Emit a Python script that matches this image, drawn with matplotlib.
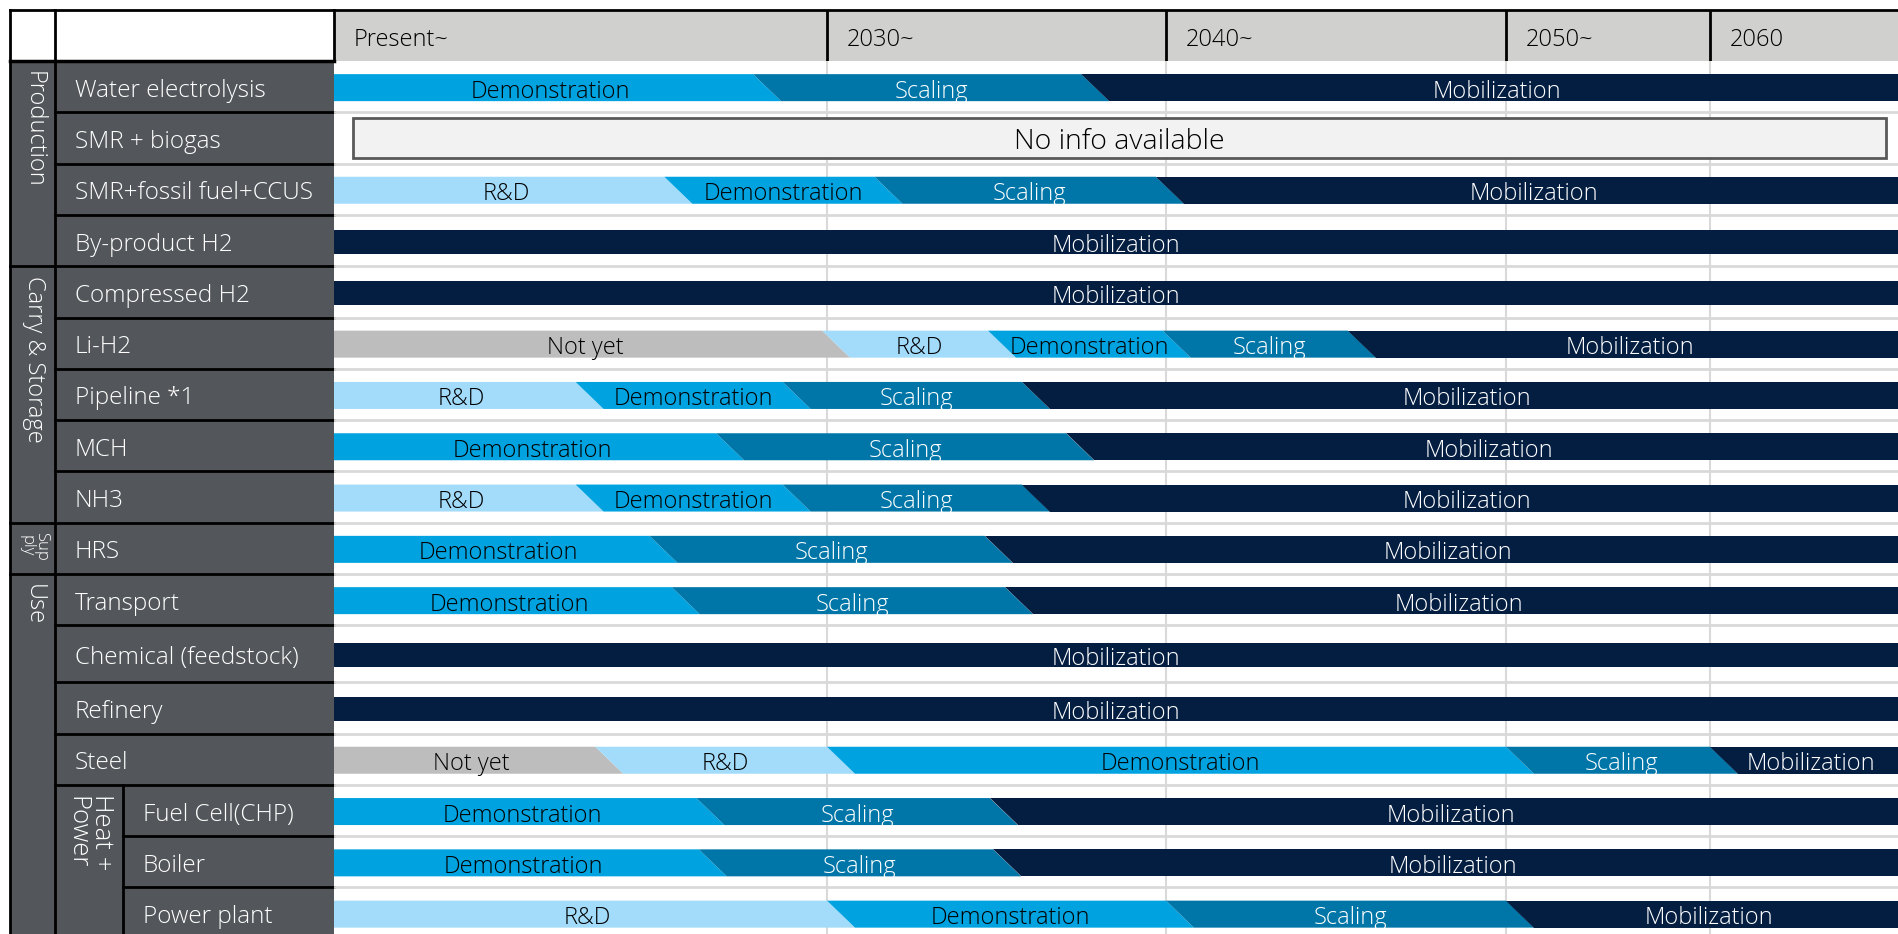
import numpy as np
import matplotlib.pyplot as plt
from matplotlib.patches import Polygon, Rectangle

plt.rcParams['font.family'] = ['Open Sans', 'DejaVu Sans']
plt.rcParams['font.weight'] = 300

# timeline periods (the 2060 column runs to the right edge)
period_labels = ['Present~', '2030~', '2040~', '2050~', '2060']
period_years = [2020, 2030, 2040, 2050, 2060, 2070]

row_labels = ['Water electrolysis', 'SMR + biogas', 'SMR+fossil fuel+CCUS', 'By-product H2',
              'Compressed H2', 'Li-H2', 'Pipeline *1', 'MCH', 'NH3', 'HRS', 'Transport',
              'Chemical (feedstock)', 'Refinery', 'Steel', 'Fuel Cell(CHP)', 'Boiler', 'Power plant']

# stage sequence of every row and the year each stage starts (None = no info)
row_stages = [
    ['Demonstration', 'Scaling', 'Mobilization'],
    None,
    ['R&D', 'Demonstration', 'Scaling', 'Mobilization'],
    ['Mobilization'],
    ['Mobilization'],
    ['Not yet', 'R&D', 'Demonstration', 'Scaling', 'Mobilization'],
    ['R&D', 'Demonstration', 'Scaling', 'Mobilization'],
    ['Demonstration', 'Scaling', 'Mobilization'],
    ['R&D', 'Demonstration', 'Scaling', 'Mobilization'],
    ['Demonstration', 'Scaling', 'Mobilization'],
    ['Demonstration', 'Scaling', 'Mobilization'],
    ['Mobilization'],
    ['Mobilization'],
    ['Not yet', 'R&D', 'Demonstration', 'Scaling', 'Mobilization'],
    ['Demonstration', 'Scaling', 'Mobilization'],
    ['Demonstration', 'Scaling', 'Mobilization'],
    ['R&D', 'Demonstration', 'Scaling', 'Mobilization'],
]
row_starts = [
    [2020, 2028.5, 2037.5],
    None,
    [2020, 2026.7, 2031.4, 2039.7],
    [2020],
    [2020],
    [2020, 2029.9, 2034.75, 2039.9, 2045.35],
    [2020, 2024.9, 2029.1, 2035.75],
    [2020, 2027.75, 2037.05],
    [2020, 2024.9, 2029.1, 2035.75],
    [2020, 2026.4, 2034.65],
    [2020, 2026.85, 2035.25],
    [2020],
    [2020],
    [2020, 2025.3, 2030, 2050, 2060],
    [2020, 2027.35, 2034.8],
    [2020, 2027.4, 2034.9],
    [2020, 2030, 2040, 2050],
]

group_labels = ['Production', 'Carry & Storage', 'Sup\nply', 'Use']
group_rows = [(0, 3), (4, 8), (9, 9), (10, 16)]
sub_labels = ['Heat +\nPower']
sub_rows = [(14, 16)]

stage_colors = {'Not yet': '#BCBDBC', 'R&D': '#A3DCFA', 'Demonstration': '#00A3E0',
                'Scaling': '#0076A8', 'Mobilization': '#041E42'}
stage_text = {'Not yet': 'black', 'R&D': 'black', 'Demonstration': 'black',
              'Scaling': 'white', 'Mobilization': 'white'}

# layout in pixels
W, H = 1898, 934
col_px = [334, 827, 1166, 1506, 1710, 1898]
head_top, head_bot = 10, 61
x_left, x_grp, x_sub, x_lab = 10, 55, 123, 334
row_h = np.full(len(row_labels), 51.3)
row_h[11] = 57
edges = np.concatenate([[0], np.cumsum(row_h)])
slant = 28
dark = '#53565A'
grid_c = '#D9D9D9'


def fwd(y):
    return np.interp(y, period_years, col_px)


def inv(p):
    return np.interp(p, col_px, period_years)


fig = plt.figure(figsize=(W / 100, H / 100), dpi=100)

# ---- left table (pixel coordinates)
ax0 = fig.add_axes([0, 0, 1, 1])
ax0.set_xlim(0, W)
ax0.set_ylim(H, 0)
ax0.axis('off')
ax0.add_patch(Rectangle((x_left, head_bot), x_lab - x_left, H - head_bot, color=dark, lw=0))
ax0.add_patch(Rectangle((x_lab, head_top), W - x_lab, head_bot - head_top, color='#D0D0CE', lw=0))
ax0.plot([x_left, W], [head_top, head_top], color='black', lw=2)
ax0.plot([x_left, x_lab], [head_bot, head_bot], color='black', lw=2.5)
for x in [x_left, x_grp]:
    ax0.plot([x, x], [head_top, H], color='black', lw=2)
ax0.plot([x_lab, x_lab], [head_top, head_bot], color='black', lw=2)

ry = head_bot + edges
sub_first = [a for a, b in sub_rows]
sub_set = {i for a, b in sub_rows for i in range(a, b + 1)}
grp_first = [a for a, b in group_rows]
for i, lab in enumerate(row_labels):
    if i > 0:
        if i in grp_first:
            x0 = x_left
        elif i in sub_set and i not in sub_first:
            x0 = x_sub
        else:
            x0 = x_grp
        ax0.plot([x0, x_lab], [ry[i], ry[i]], color='black', lw=2)
    tx = x_sub + 20 if i in sub_set else x_grp + 20
    ax0.text(tx, (ry[i] + ry[i + 1]) / 2 + 1, lab, color='white', fontsize=17.5,
             ha='left', va='center_baseline')
for lab, (a, b) in zip(group_labels, group_rows):
    small = '\n' in lab
    ax0.text((x_left + x_grp) / 2 + 1, ry[a] + (9 if small else 10), lab, color='white',
             fontsize=12 if small else 17, rotation=270, ha='center', va='top',
             linespacing=0.9)
for lab, (a, b) in zip(sub_labels, sub_rows):
    ax0.plot([x_sub, x_sub], [ry[a], min(ry[b + 1], H)], color='black', lw=2)
    ax0.text((x_grp + x_sub) / 2, ry[a] + 9, lab, color='white', fontsize=18.5,
             rotation=270, ha='center', va='top', linespacing=1.0)

# ---- header with the timeline periods
axh = fig.add_axes([x_lab / W, 1 - head_bot / H, (W - x_lab) / W, (head_bot - head_top) / H])
axh.set_xscale('function', functions=(fwd, inv))
axh.set_xlim(period_years[0], period_years[-1])
axh.set_ylim(1, 0)
axh.axis('off')
for yr, lab in zip(period_years[:-1], period_labels):
    if yr != period_years[0]:
        axh.plot([yr, yr], [0, 1], color='black', lw=2, solid_capstyle='butt')
    axh.text(inv(fwd(yr) + 20), 0.53, lab, fontsize=17, ha='left', va='center_baseline')

# ---- roadmap bars
ax = fig.add_axes([x_lab / W, 0, (W - x_lab) / W, 1 - head_bot / H])
ax.set_xscale('function', functions=(fwd, inv))
ax.set_xlim(period_years[0], period_years[-1])
ax.set_ylim(H - head_bot, 0)
ax.axis('off')

for yr in period_years[1:-1]:
    ax.plot([yr, yr], [0, H], color=grid_c, lw=1.5, zorder=0)
for e in edges[1:]:
    ax.plot([period_years[0], period_years[-1]], [e, e], color=grid_c, lw=2, zorder=0)

for i, (stages, starts) in enumerate(zip(row_stages, row_starts)):
    yc = (edges[i] + edges[i + 1]) / 2 + 1
    if stages is None:
        x0, x1 = inv(col_px[0] + 19), inv(col_px[-1] - 12)
        ax.add_patch(Rectangle((x0, edges[i] + 6), x1 - x0, row_h[i] - 12,
                               facecolor='#F2F2F2', edgecolor='#595959', lw=2, zorder=2))
        ax.text(inv((col_px[0] + 19 + col_px[-1] - 12) / 2), yc, 'No info available',
                fontsize=20.5, ha='center', va='center_baseline', zorder=3)
        continue
    bar_h = 27 if len(stages) > 1 else 24
    yt, yb = yc - bar_h / 2, yc + bar_h / 2
    p = fwd(np.array(starts, dtype=float))
    n = len(stages)
    for k, st in enumerate(stages):
        lt = p[k]
        lb = p[k] + (slant if k > 0 else 0)
        rt = p[k + 1] if k < n - 1 else col_px[-1]
        rb = p[k + 1] + slant if k < n - 1 else col_px[-1]
        xs = inv(np.array([lt, rt, rb, lb]))
        ax.add_patch(Polygon(np.column_stack([xs, [yt, yt, yb, yb]]), closed=True,
                             color=stage_colors[st], lw=0, zorder=2))
        ax.text(inv((lt + lb + rt + rb) / 4), yc + 1, st, fontsize=17,
                color=stage_text[st], ha='center', va='center_baseline', zorder=3)

fig.savefig('out.png', dpi=100)
